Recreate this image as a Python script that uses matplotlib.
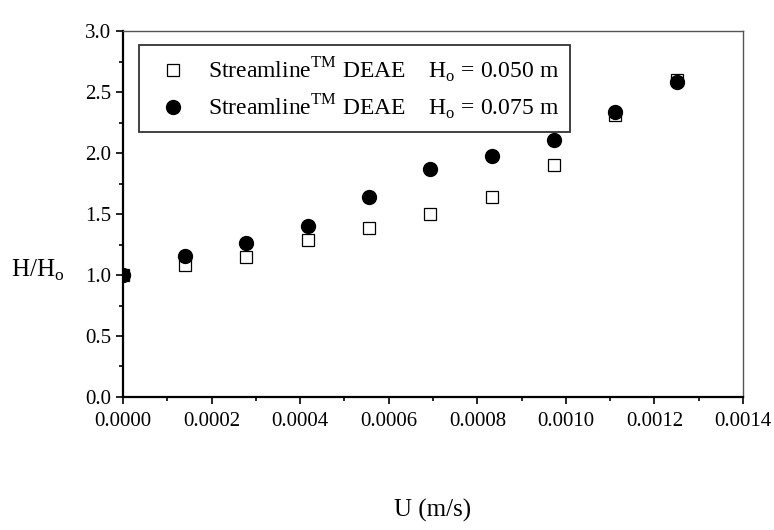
import matplotlib
matplotlib.use("Agg")
import matplotlib.pyplot as plt
from matplotlib.ticker import MultipleLocator, FormatStrFormatter

plt.rcParams['font.family'] = ['Liberation Serif', 'DejaVu Serif']
plt.rcParams['mathtext.fontset'] = 'custom'
plt.rcParams['mathtext.rm'] = 'Liberation Serif'

# superficial velocity (m/s): 0 ... 4.5 m/h
u = [0.0, 0.000139, 0.000278, 0.000417, 0.000556, 0.000694,
     0.000833, 0.000972, 0.001111, 0.00125]
# H/Ho, Ho = 0.050 m
h_050 = [1.0, 1.08, 1.15, 1.29, 1.39, 1.50, 1.64, 1.90, 2.31, 2.60]
# H/Ho, Ho = 0.075 m
h_075 = [1.0, 1.16, 1.26, 1.40, 1.64, 1.87, 1.98, 2.11, 2.34, 2.58]

lab_050 = r'Streamline$^{\mathrm{TM}}$ DEAE    H$_{\mathrm{o}}$ = 0.050 m'
lab_075 = r'Streamline$^{\mathrm{TM}}$ DEAE    H$_{\mathrm{o}}$ = 0.075 m'

fig = plt.figure(figsize=(7.74, 5.30), dpi=100)
ax = fig.add_axes([0.159, 0.251, 0.801, 0.69])

ax.plot(u, h_050, linestyle='none', marker='s', ms=8.5, mfc='white',
        mec='black', mew=0.9, label=lab_050)
ax.plot(u, h_075, linestyle='none', marker='o', ms=10, mfc='black',
        mec='black', label=lab_075)

ax.set_xlim(0, 0.0014)
ax.set_ylim(0, 3.0)
ax.xaxis.set_major_locator(MultipleLocator(0.0002))
ax.xaxis.set_minor_locator(MultipleLocator(0.0001))
ax.yaxis.set_major_locator(MultipleLocator(0.5))
ax.yaxis.set_minor_locator(MultipleLocator(0.25))
ax.xaxis.set_major_formatter(FormatStrFormatter('%.4f'))
ax.yaxis.set_major_formatter(FormatStrFormatter('%.1f'))

ax.tick_params(which='both', direction='out', top=False, right=False,
               labelsize=15, width=1.2)
ax.tick_params(which='major', length=5)
ax.tick_params(which='minor', length=3)
ax.tick_params(axis='x', pad=6)

for s in ['left', 'bottom']:
    ax.spines[s].set_linewidth(1.6)
for s in ['top', 'right']:
    ax.spines[s].set_linewidth(1.0)
    ax.spines[s].set_color('#555555')

ax.set_xlabel('U (m/s)', fontsize=18)
ax.xaxis.set_label_coords(0.5, -0.28)
ax.set_ylabel(r'H/H$_{\mathrm{o}}$', fontsize=18, rotation=0,
              va='center', ha='center')
ax.yaxis.set_label_coords(-0.137, 0.345)

leg = ax.legend(loc='upper left', fontsize=17, frameon=True, fancybox=False,
                edgecolor='black', borderpad=0.45, handletextpad=0.5,
                labelspacing=0.3, bbox_to_anchor=(0.006, 0.995))
leg.get_frame().set_linewidth(1.3)

fig.savefig('out.png', dpi=100)
